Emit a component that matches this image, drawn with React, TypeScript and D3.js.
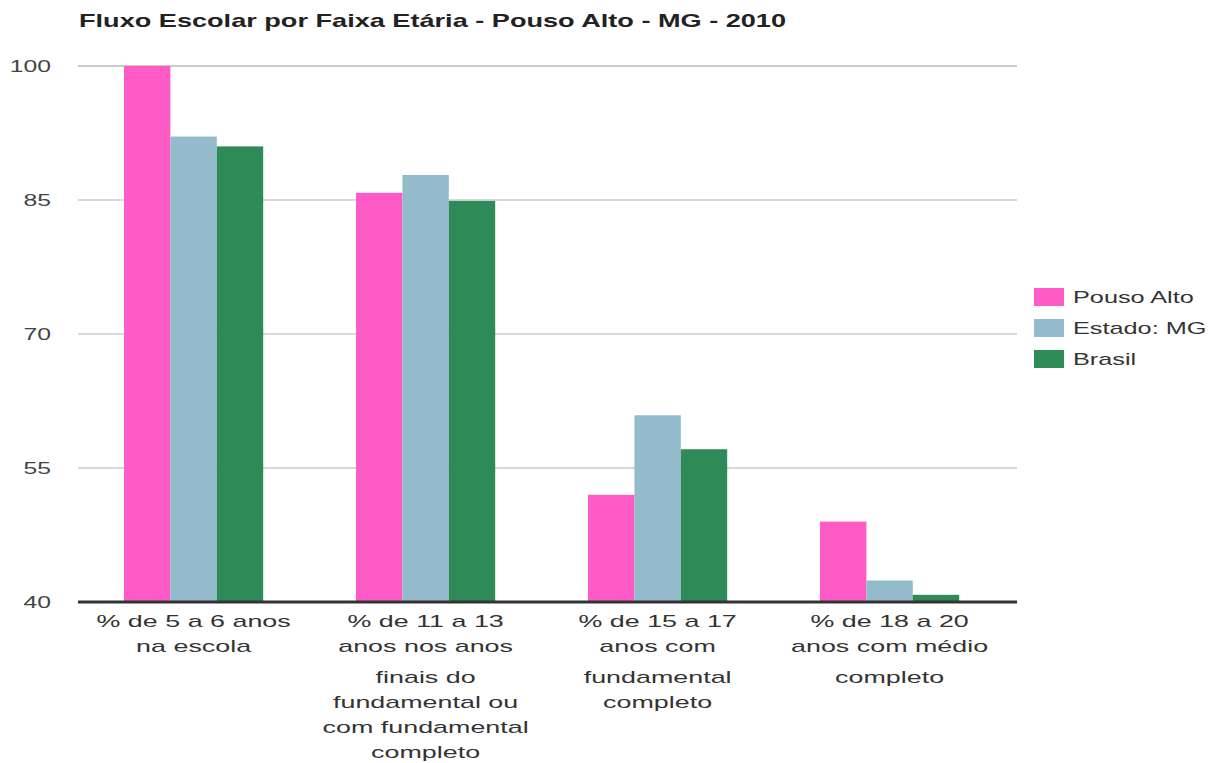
import React from "react";
import * as d3 from "d3";

const categories: string[][] = [
  ["% de 5 a 6 anos", "na escola"],
  ["% de 11 a 13", "anos nos anos", "finais do", "fundamental ou", "com fundamental", "completo"],
  ["% de 15 a 17", "anos com", "fundamental", "completo"],
  ["% de 18 a 20", "anos com médio", "completo"],
];
const seriesNames = ["Pouso Alto", "Estado: MG", "Brasil"];
const pousoAlto = [100, 85.8, 52.0, 49.0];
const estadoMG = [92.1, 87.8, 60.9, 42.4];
const brasil = [91.0, 84.9, 57.1, 40.8];
const yTicks = [40, 55, 70, 85, 100];
const colors = ["#ff5bc6", "#93bbcb", "#2e8b57"];

function T({ x, y, anchor = "start", size, weight = "normal", fill, sx = 1.5, children }: any) {
  return (
    <g transform={`translate(${x},${y}) scale(${sx},1)`}>
      <text x={0} y={0} textAnchor={anchor} fontSize={size} fontWeight={weight} fill={fill}>{children}</text>
    </g>
  );
}

export default function App() {
  const W = 1213, H = 763;
  const left = 78, right = 1017, top = 66, bottom = 602;
  const series = [pousoAlto, estadoMG, brasil];
  const x = d3.scaleBand<number>().domain(d3.range(categories.length)).range([77.6, 1005.6]).paddingInner(0.4).paddingOuter(0.2);
  const xi = d3.scaleBand<number>().domain(d3.range(series.length)).range([0, x.bandwidth()]);
  const y = d3.scaleLinear().domain([40, 100]).range([bottom, top]);
  const font = "'Liberation Sans', Arial, sans-serif";
  const lineY = (k: number) => 627 + k * 25 + (k >= 2 ? 6 : 0);
  return (
    <svg width={W} height={H} style={{ position: "absolute", left: 0, top: 0, background: "#fff" }} fontFamily={font}>
      <T x={79} y={27} size={17.5} sx={1.55} weight="bold" fill="#222">Fluxo Escolar por Faixa Etária - Pouso Alto - MG - 2010</T>
      {yTicks.map((t) => (
        <g key={t}>
          {t !== 40 && <line x1={left} x2={right} y1={y(t)} y2={y(t)} stroke="#cccccc" strokeWidth={t === 100 ? 2 : 1.5} />}
          <T x={51} y={y(t) + 6} anchor="end" size={16.5} fill="#444">{t}</T>
        </g>
      ))}
      {categories.map((c, i) => (
        <g key={i}>
          {series.map((s, j) => (
            <rect key={j} x={(x(i) as number) + (xi(j) as number)} width={xi.bandwidth()} y={y(s[i])} height={y(40) - y(s[i])} fill={colors[j]} />
          ))}
          {c.map((line, k) => (
            <T key={k} x={(x(i) as number) + x.bandwidth() / 2} y={lineY(k)} anchor="middle" size={16} sx={1.68} fill="#333">{line}</T>
          ))}
        </g>
      ))}
      <line x1={left} x2={right} y1={bottom} y2={bottom} stroke="#333" strokeWidth={3} />
      {seriesNames.map((n, j) => (
        <g key={n}>
          <rect x={1034} y={288 + j * 31} width={30} height={18} fill={colors[j]} />
          <T x={1073} y={303 + j * 31} size={16} sx={1.58} fill="#333">{n}</T>
        </g>
      ))}
    </svg>
  );
}
